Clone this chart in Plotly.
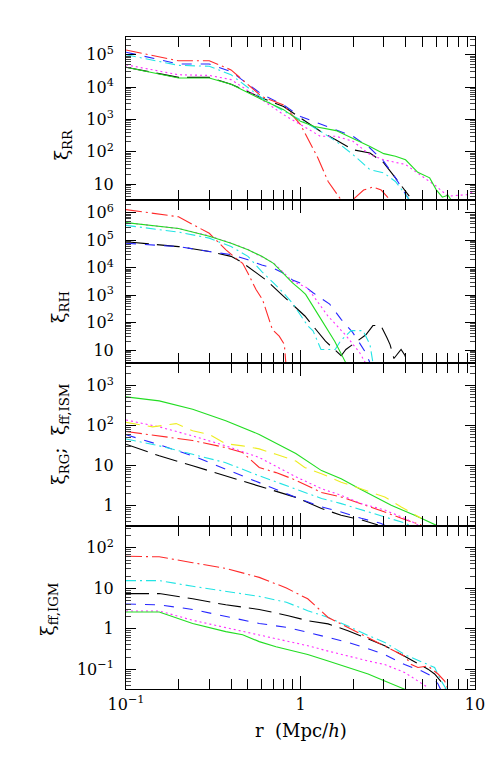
import plotly.graph_objects as go
from plotly.subplots import make_subplots

# ---- panel 1: xi_RR ----
rr_black_r = [0.1, 0.2, 0.3, 0.4, 0.6, 0.8, 1.0, 1.3, 1.6, 2.0, 2.5, 3.0, 3.5, 4.2]
rr_black = [4.1e4, 2.0e4, 2.0e4, 1.23e4, 4600, 2500, 1100, 430, 230, 115, 91, 45, 15.5, 4.2]
rr_blue_r = [0.1, 0.2, 0.3, 0.4, 0.6, 0.8, 1.0, 1.5, 2.0, 2.5, 3.0, 3.5, 4.0, 4.2]
rr_blue = [1.2e5, 5.2e4, 5.2e4, 3.0e4, 6000, 2800, 1230, 540, 300, 130, 50, 15.5, 5.2, 3.2]
rr_cyan_r = [0.1, 0.2, 0.3, 0.4, 0.6, 0.8, 1.0, 1.3, 1.6, 2.0, 2.5, 3.0, 3.5, 4.0, 4.2]
rr_cyan = [1.0e5, 4.7e4, 4.4e4, 2.4e4, 4600, 1800, 980, 430, 210, 81, 28, 22, 12, 4.7, 3.3]
rr_red_r = [0.1, 0.2, 0.3, 0.4, 0.6, 0.8, 1.0, 1.1, 1.26, 1.44, 1.6, 1.71, 1.8, 1.9,
            2.0, 2.3, 2.6, 2.9, 3.25, 3.5]
rr_red = [1.4e5, 6.5e4, 6.5e4, 3.4e4, 5100, 2800, 690, 260, 63, 12, 5.2, 3.2, 1.5, 1.5,
          3.3, 6.5, 8.1, 6.5, 3.3, 1.8]
rr_magenta_r = [0.1, 0.2, 0.3, 0.4, 0.6, 0.8, 1.0, 1.3, 1.6, 2.0, 2.5, 3.0, 4.0, 5.0,
                6.0, 7.0, 8.0, 9.0, 10.0]
rr_magenta = [4.9e4, 2.4e4, 2.3e4, 1.7e4, 4100, 1400, 690, 300, 300, 210, 81, 56, 40,
              17.4, 8.5, 4.2, 4.5, 4.7, 6.2]
rr_green_r = [0.1, 0.2, 0.3, 0.4, 0.6, 0.8, 1.0, 1.2, 1.6, 2.0, 2.5, 3.0, 3.5, 4.0, 4.7,
              5.5, 6.0, 6.5, 7.0, 7.3]
rr_green = [4.1e4, 1.9e4, 1.9e4, 1.23e4, 4100, 2000, 870, 600, 450, 260, 145, 87, 72, 56,
            23, 15.5, 6.6, 3.9, 4.5, 3.2]

# ---- panel 2: xi_RH ----
rh_black_r = [0.1, 0.2, 0.3, 0.4, 0.456, 0.53, 0.634, 0.8, 0.94, 1.06, 1.39, 1.71, 1.82,
              2.37, 2.6, 2.89, 3.13, 3.26, 3.43, 3.77, 3.97, 4.08]
rh_black = [8.9e4, 5.9e4, 3.9e4, 2.6e4, 1.66e4, 8300, 3600, 910, 340, 174, 21, 6.2, 10.5,
            36, 78, 78, 28, 15.8, 4.9, 10.5, 6.3, 3.5]
rh_blue_r = [0.1, 0.2, 0.3, 0.4, 0.5, 0.6, 0.7, 0.8, 0.9, 1.0, 1.18, 1.47, 1.71, 1.99,
             2.33, 2.49, 2.6]
rh_blue = [7.8e4, 5.9e4, 3.9e4, 3.0e4, 1.95e4, 1.26e4, 9500, 6300, 3600, 2750, 1230, 470,
           132, 44, 9.3, 3.5, 2.0]
rh_cyan_r = [0.1, 0.2, 0.3, 0.4, 0.5, 0.6, 0.7, 0.8, 0.9, 1.0, 1.1, 1.18, 1.31, 1.58,
             1.7, 1.95, 2.28, 2.5, 2.6, 2.7]
rh_cyan = [3.5e5, 2.0e5, 1.2e5, 5.9e4, 2.6e4, 7200, 2800, 1200, 510, 195, 76, 50, 10.5,
           10.5, 22, 51, 51, 16, 3.5, 1.6]
rh_red_r = [0.1, 0.2, 0.3, 0.314, 0.374, 0.427, 0.466, 0.5, 0.556, 0.606, 0.69, 0.755,
            0.808, 0.826]
rh_red = [1.32e6, 7.2e5, 1.8e5, 1.35e5, 4.5e4, 2.2e4, 1.45e4, 6300, 1600, 690, 56, 32,
          16, 2.8]
rh_magenta_r = [0.1, 0.2, 0.3, 0.4, 0.5, 0.6, 0.7, 0.8, 0.9, 1.0, 1.1, 1.43, 1.82, 2.18,
                2.37]
rh_magenta = [4.4e5, 2.7e5, 1.45e5, 8.0e4, 4.6e4, 2.6e4, 1.5e4, 6600, 3200, 2400, 1800,
              180, 34, 8.1, 3.2]
rh_green_r = [0.1, 0.2, 0.3, 0.4, 0.5, 0.6, 0.7, 0.8, 0.9, 1.0, 1.07, 1.26, 1.57, 1.82]
rh_green = [4.4e5, 2.7e5, 1.4e5, 7.8e4, 4.5e4, 2.6e4, 1.45e4, 6300, 2800, 1600, 1070,
            200, 21, 3.4]

# ---- panel 3: xi_RG ; xi_ff,ISM ----
rg_black_r = [0.1, 0.155, 0.241, 0.373, 0.58, 0.94, 1.32, 1.71, 2.23, 2.78]
rg_black = [34, 17.4, 9.8, 5.5, 3.1, 1.58, 0.83, 0.56, 0.43, 0.32]
rg_blue_r = [0.1, 0.155, 0.241, 0.373, 0.58, 0.9, 1.32, 1.71, 2.23, 2.9, 3.1]
rg_blue = [59, 33, 17.4, 7.9, 3.7, 1.7, 0.91, 0.68, 0.47, 0.35, 0.30]
rg_cyan_r = [0.1, 0.155, 0.241, 0.373, 0.58, 0.94, 1.32, 1.71, 2.23, 3.04, 3.95, 4.3]
rg_cyan = [46, 31, 19, 11.7, 5.5, 2.6, 1.48, 1.1, 0.76, 0.51, 0.36, 0.30]
rg_red_r = [0.1, 0.155, 0.241, 0.373, 0.466, 0.58, 0.724, 0.9, 1.32, 1.71, 2.23, 3.04,
            3.78, 4.92]
rg_red = [71, 55, 42, 28, 21, 8.9, 6.6, 4.6, 2.1, 1.62, 1.1, 0.68, 0.47, 0.32]
rg_magenta_r = [0.1, 0.155, 0.241, 0.373, 0.58, 0.94, 1.32, 1.71, 2.23, 3.04, 3.78,
                4.51, 4.8]
rg_magenta = [138, 93, 55, 31, 15.8, 5.2, 2.6, 1.78, 1.1, 0.76, 0.51, 0.36, 0.30]
rg_green_r = [0.1, 0.155, 0.241, 0.373, 0.58, 0.94, 1.32, 1.71, 2.18, 2.66, 3.31, 4.51,
              6.14]
rg_green = [525, 417, 257, 132, 60, 20, 7.4, 4.6, 2.6, 1.62, 1.0, 0.56, 0.30]
ism_yellow_r = [0.1, 0.142, 0.194, 0.241, 0.3, 0.373, 0.466, 0.58, 0.724, 0.94, 1.057,
                1.32, 1.71, 2.23, 3.04, 3.78, 4.92]
ism_yellow = [120, 93, 112, 74, 60, 35, 31, 26, 19, 12.9, 8.9, 6.2, 3.8, 2.6, 1.62, 0.91,
              0.47]

# ---- panel 4: xi_ff,IGM ----
igm_black_r = [0.1, 0.155, 0.241, 0.373, 0.58, 0.85, 1.10, 1.44, 1.87, 2.44, 3.04, 3.95,
               5.38, 5.87, 6.56, 6.85]
igm_black = [7.4, 7.4, 5.5, 3.9, 3.0, 2.1, 1.58, 1.32, 0.89, 0.55, 0.38, 0.21, 0.10,
             0.076, 0.043, 0.029]
igm_blue_r = [0.1, 0.155, 0.241, 0.373, 0.58, 0.85, 1.10, 1.44, 1.87, 2.44, 3.04, 3.95,
              4.92, 5.62, 6.14, 6.41]
igm_blue = [4.1, 3.9, 3.0, 2.0, 1.35, 1.07, 0.81, 0.62, 0.46, 0.32, 0.23, 0.13, 0.091,
            0.068, 0.043, 0.029]
igm_cyan_r = [0.1, 0.155, 0.241, 0.373, 0.58, 0.83, 1.10, 1.44, 1.87, 2.44, 3.04, 3.95,
              5.38, 5.87, 6.41, 6.85]
igm_cyan = [15.5, 15.5, 11.2, 8.5, 6.3, 4.5, 2.8, 1.9, 1.17, 0.68, 0.46, 0.23, 0.13,
            0.11, 0.051, 0.032]
igm_red_r = [0.1, 0.155, 0.241, 0.373, 0.58, 0.83, 0.93, 1.10, 1.44, 1.87, 2.44, 3.04,
             3.95, 4.32, 4.71, 5.38, 6.14, 6.70, 7.0]
igm_red = [62, 60, 43, 31, 18.6, 10.2, 7.9, 5.5, 1.9, 1.07, 0.62, 0.38, 0.21, 0.13, 0.11,
           0.12, 0.076, 0.051, 0.032]
igm_magenta_r = [0.1, 0.155, 0.241, 0.373, 0.58, 0.85, 1.10, 1.44, 1.87, 2.44, 3.04,
                 3.95, 4.71, 5.38]
igm_magenta = [2.75, 2.75, 1.62, 1.07, 0.71, 0.50, 0.38, 0.28, 0.21, 0.16, 0.13, 0.083,
               0.051, 0.035]
igm_green_r = [0.1, 0.155, 0.241, 0.373, 0.466, 0.58, 0.724, 0.85, 1.10, 1.44, 1.87,
               2.44, 3.04, 3.95]
igm_green = [2.6, 2.6, 1.35, 0.85, 0.71, 0.48, 0.36, 0.30, 0.23, 0.16, 0.11, 0.076,
             0.051, 0.032]

# axis ticks
x_ticks = [0.1, 1, 10]
x_ticktext = ["10<sup>−1</sup>", "1", "10"]
y_ticks = [
    [10, 100, 1e3, 1e4, 1e5],
    [10, 100, 1e3, 1e4, 1e5, 1e6],
    [1, 10, 100, 1e3],
    [0.1, 1, 10, 100],
]
y_ticktext = [
    ["10", "10<sup>2</sup>", "10<sup>3</sup>", "10<sup>4</sup>", "10<sup>5</sup>"],
    ["10", "10<sup>2</sup>", "10<sup>3</sup>", "10<sup>4</sup>", "10<sup>5</sup>",
     "10<sup>6</sup>"],
    ["1", "10", "10<sup>2</sup>", "10<sup>3</sup>"],
    ["10<sup>−1</sup>", "1", "10", "10<sup>2</sup>"],
]
y_ranges = [[0.505, 5.55], [0.527, 6.47], [-0.52, 3.57], [-1.49, 2.54]]
y_titles = [
    "ξ<sub>RR</sub>",
    "ξ<sub>RH</sub>",
    "ξ<sub>RG</sub>;  ξ<sub>ff,ISM</sub>",
    "ξ<sub>ff,IGM</sub>",
]
title_pos = [(-0.183, 0.834), (-0.189, 0.586), (-0.189, 0.390), (-0.221, 0.123)]

styles = {
    "black": dict(color="#000000", dash="23px,8px"),
    "blue": dict(color="#2626ff", dash="10px,9px"),
    "cyan": dict(color="#22e4e4", dash="10px,4px,2px,4px"),
    "red": dict(color="#ff2a2a", dash="16px,4px,2px,4px"),
    "magenta": dict(color="#ff2cff", dash="2px,3px"),
    "green": dict(color="#22dd22", dash="solid"),
    "yellow": dict(color="#eded22", dash="14px,8px"),
}

panels = [
    [("black", rr_black_r, rr_black), ("blue", rr_blue_r, rr_blue),
     ("cyan", rr_cyan_r, rr_cyan), ("red", rr_red_r, rr_red),
     ("magenta", rr_magenta_r, rr_magenta), ("green", rr_green_r, rr_green)],
    [("black", rh_black_r, rh_black), ("blue", rh_blue_r, rh_blue),
     ("cyan", rh_cyan_r, rh_cyan), ("red", rh_red_r, rh_red),
     ("magenta", rh_magenta_r, rh_magenta), ("green", rh_green_r, rh_green)],
    [("black", rg_black_r, rg_black), ("blue", rg_blue_r, rg_blue),
     ("cyan", rg_cyan_r, rg_cyan), ("red", rg_red_r, rg_red),
     ("magenta", rg_magenta_r, rg_magenta), ("green", rg_green_r, rg_green),
     ("yellow", ism_yellow_r, ism_yellow)],
    [("black", igm_black_r, igm_black), ("blue", igm_blue_r, igm_blue),
     ("cyan", igm_cyan_r, igm_cyan), ("red", igm_red_r, igm_red),
     ("magenta", igm_magenta_r, igm_magenta), ("green", igm_green_r, igm_green)],
]

FONT = "DejaVu Serif"

fig = make_subplots(rows=4, cols=1, shared_xaxes=True, vertical_spacing=0)

for i, series in enumerate(panels):
    for name, r, xi in series:
        s = styles[name]
        fig.add_trace(
            go.Scatter(
                x=r, y=xi, mode="lines", showlegend=False,
                line=dict(color=s["color"], dash=s["dash"], width=1.1),
            ),
            row=i + 1, col=1,
        )

x_minor = [m * 10 ** k for k in (-1, 0) for m in range(2, 10)]

for i in range(4):
    lo, hi = y_ranges[i]
    y_minor = [m * 10.0 ** k for k in range(int(lo) - 2, int(hi) + 2) for m in range(2, 10)]
    fig.update_yaxes(
        type="log", range=y_ranges[i],
        tickvals=y_ticks[i], ticktext=y_ticktext[i],
        ticks="inside", ticklen=10, tickcolor="black",
        mirror="allticks", showline=True, linecolor="black", linewidth=1,
        showgrid=False, zeroline=False,
        minor=dict(tickvals=y_minor, ticks="inside", ticklen=5, tickcolor="#444",
                   showgrid=False),
        tickfont=dict(family=FONT, size=16, color="black"),
        ticklabelstandoff=8,
        row=i + 1, col=1,
    )
    fig.update_xaxes(
        type="log", range=[-1, 1],
        tickvals=x_ticks, ticktext=x_ticktext,
        ticks="inside", ticklen=13, tickcolor="black",
        mirror="allticks", showline=True, linecolor="black", linewidth=1,
        showgrid=False, zeroline=False,
        minor=dict(tickvals=x_minor, ticks="inside", ticklen=10, tickcolor="black",
                   showgrid=False),
        tickfont=dict(family=FONT, size=16, color="black"),
        ticklabelstandoff=1,
        showticklabels=(i == 3),
        row=i + 1, col=1,
    )
    tx, ty = title_pos[i]
    fig.add_annotation(
        text=y_titles[i], xref="paper", yref="paper", x=tx, y=ty,
        xanchor="center", yanchor="middle", textangle=-90, showarrow=False,
        font=dict(family=FONT, size=19, color="black"),
    )

fig.add_annotation(
    text="r  (Mpc/<i>h</i>)", xref="paper", yref="paper", x=0.5, y=-0.0644,
    xanchor="center", yanchor="middle", showarrow=False,
    font=dict(family=FONT, size=18, color="black"),
)

fig.update_layout(
    width=497, height=763,
    margin=dict(l=118, r=30, t=29, b=82),
    plot_bgcolor="white", paper_bgcolor="white",
    showlegend=False,
)

fig.write_html("out.html")
